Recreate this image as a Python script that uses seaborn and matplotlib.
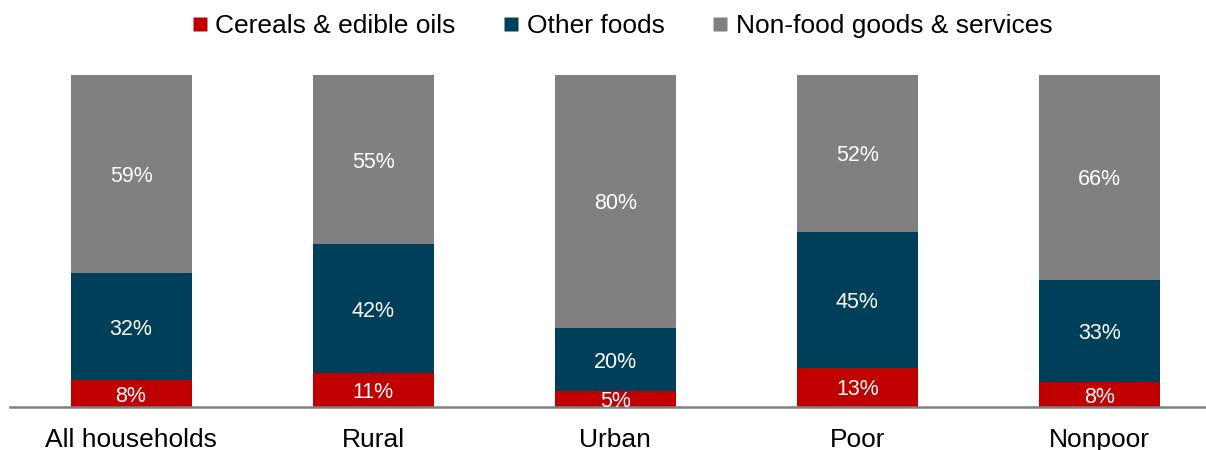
import matplotlib
matplotlib.use("Agg")
import matplotlib.pyplot as plt
from matplotlib.lines import Line2D
import numpy as np
import pandas as pd
import seaborn as sns

# Household budget shares by group (percent, as reported)
groups = ["All households", "Rural", "Urban", "Poor", "Nonpoor"]
cereals = [8, 11, 5, 13, 8]
other_foods = [32, 42, 20, 45, 33]
non_food = [59, 55, 80, 52, 66]

series_names = ["Cereals & edible oils", "Other foods", "Non-food goods & services"]
colors = ["#C00000", "#003F5A", "#808080"]

sns.set_theme(style="white")
plt.rcParams["font.family"] = ["Liberation Sans", "DejaVu Sans"]
plt.rcParams["text.color"] = "black"

# Each bar is scaled to 100% of the column
raw = np.array([cereals, other_foods, non_food], dtype=float)
share = raw / raw.sum(axis=0) * 100
cum = np.cumsum(share, axis=0)

fig = plt.figure(figsize=(12.06, 4.5), dpi=100)
ax = fig.add_axes([10 / 1206, 43 / 450, 1196 / 1206, 332 / 450])

# Draw from the top of the stack downwards so each layer covers the one above
for layer in (2, 1, 0):
    df = pd.DataFrame({"group": groups, "value": cum[layer]})
    sns.barplot(data=df, x="group", y="value", order=groups, color=colors[layer],
                width=0.5, saturation=1, edgecolor="none", ax=ax)

# Segment value labels
for i in range(len(groups)):
    lower = 0.0
    for layer in range(3):
        upper = cum[layer][i]
        ax.text(i, (lower + upper) / 2, f"{int(raw[layer][i])}%", ha="center",
                va="center_baseline", color="white", fontsize=15.5)
        lower = upper

ax.set_xlim(-0.5, 4.44)
ax.set_ylim(0, 100)
ax.set_xlabel("")
ax.set_ylabel("")
ax.set_yticks([])
for side in ("top", "left", "right"):
    ax.spines[side].set_visible(False)
ax.spines["bottom"].set_color("#808080")
ax.spines["bottom"].set_linewidth(1.8)
ax.tick_params(axis="x", length=0, pad=15, labelsize=19, labelcolor="black")

handles = [Line2D([0], [0], marker="s", linestyle="none", markersize=10,
                  markerfacecolor=c, markeredgecolor="none") for c in colors]
fig.legend(handles, series_names, loc="center", bbox_to_anchor=(0.516, 1 - 26 / 450),
           ncol=3, frameon=False, fontsize=19, handlelength=0.6, handletextpad=0.3,
           columnspacing=1.8, borderpad=0, labelcolor="black")

fig.savefig("out.png", dpi=100)
